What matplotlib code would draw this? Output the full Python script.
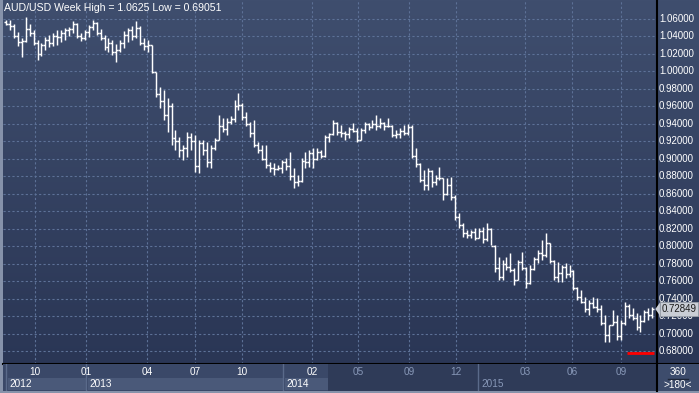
import numpy as np
import matplotlib
matplotlib.use("Agg")
import matplotlib.pyplot as plt
from matplotlib.patches import Rectangle, Polygon

plt.rcParams["font.family"] = ["Liberation Sans", "DejaVu Sans"]

# --- weekly AUD/USD bars (Aug 2012 .. Oct 2015)
opens = [
    1.0560, 1.0545, 1.0520, 1.0400, 1.0340, 1.0350, 1.0480, 1.0440, 1.0330, 1.0200,
    1.0300, 1.0360, 1.0320, 1.0410, 1.0390, 1.0440, 1.0470, 1.0490, 1.0540, 1.0400,
    1.0380, 1.0450, 1.0510, 1.0550, 1.0440, 1.0380, 1.0280, 1.0330, 1.0220, 1.0240,
    1.0330, 1.0420, 1.0470, 1.0400, 1.0500, 1.0330, 1.0290, 1.0300, 0.9990, 0.9740,
    0.9660, 0.9500, 0.9600, 0.9240, 0.9200, 0.9100, 0.9120, 0.9250, 0.9200, 0.8920,
    0.9180, 0.9100, 0.8960, 0.9130, 0.9220, 0.9380, 0.9340, 0.9420, 0.9460, 0.9600,
    0.9620, 0.9480, 0.9400, 0.9300, 0.9160, 0.9100, 0.9000, 0.8930, 0.8900, 0.8880,
    0.8900, 0.8960, 0.8920, 0.8800, 0.8740, 0.8750, 0.8980, 0.8960, 0.9070, 0.9000,
    0.9080, 0.9030, 0.9250, 0.9280, 0.9410, 0.9310, 0.9300, 0.9290, 0.9340, 0.9320,
    0.9220, 0.9330, 0.9400, 0.9370, 0.9400, 0.9380, 0.9410, 0.9380, 0.9380, 0.9270,
    0.9290, 0.9320, 0.9300, 0.9360, 0.9030, 0.8940, 0.8760, 0.8700, 0.8860, 0.8740,
    0.8780, 0.8780, 0.8600, 0.8700, 0.8570, 0.8340, 0.8240, 0.8150, 0.8130, 0.8170,
    0.8100, 0.8180, 0.8090, 0.8200, 0.8010, 0.7750, 0.7650, 0.7800, 0.7760, 0.7730,
    0.7620, 0.7820, 0.7750, 0.7580, 0.7740, 0.7860, 0.7920, 0.7900, 0.8040, 0.7830,
    0.7650, 0.7700, 0.7760, 0.7680, 0.7720, 0.7530, 0.7420, 0.7370, 0.7280, 0.7350,
    0.7310, 0.7290, 0.7130, 0.6990, 0.7105, 0.7140, 0.6980, 0.7120, 0.7320, 0.7220,
    0.7180, 0.7080, 0.7150, 0.7250, 0.7220,
]
highs = [
    1.0589, 1.0589, 1.0543, 1.0451, 1.0383, 1.0623, 1.0543, 1.0474, 1.0360, 1.0326,
    1.0394, 1.0417, 1.0440, 1.0474, 1.0474, 1.0497, 1.0509, 1.0577, 1.0554, 1.0440,
    1.0474, 1.0531, 1.0589, 1.0566, 1.0486, 1.0417, 1.0383, 1.0360, 1.0314, 1.0360,
    1.0463, 1.0497, 1.0520, 1.0577, 1.0520, 1.0383, 1.0360, 1.0303, 0.9994, 0.9823,
    0.9789, 0.9697, 0.9640, 0.9331, 0.9251, 0.9160, 0.9309, 0.9297, 0.9274, 0.9217,
    0.9217, 0.9194, 0.9160, 0.9240, 0.9503, 0.9469, 0.9469, 0.9491, 0.9674, 0.9754,
    0.9640, 0.9537, 0.9423, 0.9446, 0.9194, 0.9160, 0.9160, 0.8966, 0.8954, 0.8931,
    0.8989, 0.9011, 0.9080, 0.8897, 0.8817, 0.9011, 0.9080, 0.9103, 0.9126, 0.9126,
    0.9103, 0.9274, 0.9297, 0.9446, 0.9423, 0.9389, 0.9320, 0.9366, 0.9411, 0.9354,
    0.9354, 0.9423, 0.9411, 0.9446, 0.9503, 0.9469, 0.9423, 0.9469, 0.9389, 0.9331,
    0.9354, 0.9389, 0.9400, 0.9389, 0.9126, 0.8954, 0.8874, 0.8897, 0.8874, 0.8817,
    0.8909, 0.8783, 0.8783, 0.8794, 0.8589, 0.8383, 0.8269, 0.8189, 0.8189, 0.8211,
    0.8211, 0.8223, 0.8269, 0.8211, 0.8017, 0.7880, 0.7846, 0.7880, 0.7926, 0.7754,
    0.7846, 0.7937, 0.7766, 0.7789, 0.7880, 0.7960, 0.8074, 0.8154, 0.8040, 0.7846,
    0.7823, 0.7789, 0.7811, 0.7789, 0.7731, 0.7537, 0.7503, 0.7423, 0.7389, 0.7423,
    0.7411, 0.7331, 0.7217, 0.7103, 0.7274, 0.7217, 0.7160, 0.7366, 0.7343, 0.7297,
    0.7240, 0.7217, 0.7274, 0.7297, 0.7309,
]
lows = [
    1.0531, 1.0474, 1.0383, 1.0291, 1.0166, 1.0337, 1.0406, 1.0303, 1.0131, 1.0177,
    1.0246, 1.0280, 1.0291, 1.0303, 1.0337, 1.0360, 1.0406, 1.0440, 1.0383, 1.0349,
    1.0360, 1.0394, 1.0474, 1.0417, 1.0360, 1.0246, 1.0223, 1.0189, 1.0109, 1.0223,
    1.0269, 1.0337, 1.0360, 1.0383, 1.0303, 1.0246, 1.0223, 0.9983, 0.9709, 0.9583,
    0.9446, 0.9309, 0.9160, 0.9103, 0.9023, 0.8989, 0.9023, 0.9103, 0.8851, 0.8840,
    0.9046, 0.8909, 0.8897, 0.9103, 0.9217, 0.9309, 0.9274, 0.9400, 0.9423, 0.9560,
    0.9446, 0.9377, 0.9251, 0.9137, 0.9069, 0.8989, 0.8897, 0.8851, 0.8817, 0.8874,
    0.8840, 0.8874, 0.8760, 0.8669, 0.8691, 0.8737, 0.8897, 0.8909, 0.8897, 0.8989,
    0.9011, 0.9023, 0.9194, 0.9274, 0.9274, 0.9251, 0.9217, 0.9240, 0.9309, 0.9194,
    0.9217, 0.9297, 0.9331, 0.9354, 0.9331, 0.9354, 0.9331, 0.9366, 0.9251, 0.9240,
    0.9240, 0.9274, 0.9274, 0.9011, 0.8909, 0.8737, 0.8646, 0.8646, 0.8680, 0.8703,
    0.8760, 0.8531, 0.8589, 0.8531, 0.8303, 0.8211, 0.8109, 0.8097, 0.8097, 0.8074,
    0.8097, 0.8040, 0.8063, 0.8017, 0.7709, 0.7617, 0.7617, 0.7731, 0.7709, 0.7560,
    0.7617, 0.7731, 0.7526, 0.7570, 0.7731, 0.7811, 0.7846, 0.7880, 0.7811, 0.7617,
    0.7594, 0.7594, 0.7640, 0.7651, 0.7503, 0.7389, 0.7354, 0.7251, 0.7217, 0.7297,
    0.7251, 0.7103, 0.6909, 0.6909, 0.7103, 0.6931, 0.6931, 0.7103, 0.7183, 0.7160,
    0.7046, 0.7023, 0.7137, 0.7160, 0.7183,
]
closes = [
    1.0545, 1.0520, 1.0400, 1.0340, 1.0350, 1.0480, 1.0440, 1.0330, 1.0200, 1.0300,
    1.0360, 1.0320, 1.0410, 1.0390, 1.0440, 1.0470, 1.0490, 1.0540, 1.0400, 1.0380,
    1.0450, 1.0510, 1.0550, 1.0440, 1.0380, 1.0280, 1.0330, 1.0220, 1.0240, 1.0330,
    1.0420, 1.0470, 1.0400, 1.0500, 1.0330, 1.0290, 1.0300, 0.9990, 0.9740, 0.9660,
    0.9500, 0.9600, 0.9240, 0.9200, 0.9100, 0.9120, 0.9250, 0.9200, 0.8920, 0.9180,
    0.9100, 0.8960, 0.9130, 0.9220, 0.9380, 0.9340, 0.9420, 0.9460, 0.9600, 0.9620,
    0.9480, 0.9400, 0.9300, 0.9160, 0.9100, 0.9000, 0.8930, 0.8900, 0.8880, 0.8900,
    0.8960, 0.8920, 0.8800, 0.8740, 0.8750, 0.8980, 0.8960, 0.9070, 0.9000, 0.9080,
    0.9030, 0.9250, 0.9280, 0.9410, 0.9310, 0.9300, 0.9290, 0.9340, 0.9320, 0.9220,
    0.9330, 0.9400, 0.9370, 0.9400, 0.9380, 0.9410, 0.9380, 0.9380, 0.9270, 0.9290,
    0.9320, 0.9300, 0.9360, 0.9030, 0.8940, 0.8760, 0.8700, 0.8860, 0.8740, 0.8780,
    0.8780, 0.8600, 0.8700, 0.8570, 0.8340, 0.8240, 0.8150, 0.8130, 0.8170, 0.8100,
    0.8180, 0.8090, 0.8200, 0.8010, 0.7750, 0.7650, 0.7800, 0.7760, 0.7730, 0.7620,
    0.7820, 0.7750, 0.7580, 0.7740, 0.7860, 0.7920, 0.7900, 0.8040, 0.7830, 0.7650,
    0.7700, 0.7760, 0.7680, 0.7720, 0.7530, 0.7420, 0.7370, 0.7280, 0.7350, 0.7310,
    0.7290, 0.7130, 0.6990, 0.7105, 0.7140, 0.6980, 0.7120, 0.7320, 0.7220, 0.7180,
    0.7080, 0.7150, 0.7250, 0.7220, 0.72849,
]

month_labels = ["10", "01", "04", "07", "10", "02", "05", "09", "12", "03", "06", "09"]
month_pos = [7.4, 20.3, 35.8, 48.0, 59.9, 77.7, 89.3, 102.3, 114.2, 131.7, 143.7, 156.1]
year_labels = ["2012", "2013", "2014", "2015"]
year_start = [0.0, 20.3, 70.3, 119.8]
price_ticks = [0.68, 0.70, 0.72, 0.74, 0.76, 0.78, 0.80, 0.82, 0.84, 0.86,
               0.88, 0.90, 0.92, 0.94, 0.96, 0.98, 1.00, 1.02, 1.04, 1.06]
last_price = 0.72849
red_level = 0.6786
title = "AUD/USD Week High = 1.0625 Low = 0.69051"

W, H = 699, 393
XLIM = (-0.76, 165.2)
YLIM = (0.6657, 1.0817)
DIM = 81.7  # bar position where the dimmed part of the time axis starts
NARROW = ["Liberation Sans Narrow", "Liberation Sans"]


def px_rect(x0, y0, x1, y1):
    return [x0 / W, 1 - y1 / H, (x1 - x0) / W, (y1 - y0) / H]


def bare(a):
    a.set_xticks([])
    a.set_yticks([])
    for s in a.spines.values():
        s.set_visible(False)


fig = plt.figure(figsize=(W / 100, H / 100), dpi=100, facecolor="#8692aa")

# --- main plot
ax = fig.add_axes(px_rect(3, 0, 657, 364))
grad = np.linspace(0, 1, 256).reshape(-1, 1)
top_c = np.array([0x3f, 0x4e, 0x6e]) / 255
bot_c = np.array([0x2a, 0x36, 0x55]) / 255
img = top_c + (bot_c - top_c) * grad[..., None]
ax.imshow(img, extent=[0, 1, 0, 1], transform=ax.transAxes, aspect="auto", zorder=0)
ax.set_xlim(*XLIM)
ax.set_ylim(*YLIM)
for p in price_ticks:
    ax.axhline(p, color="#5d7197", lw=0.8, ls=(0, (2, 2)), zorder=1)
for m in month_pos:
    ax.axvline(m, color="#5d7197", lw=0.8, ls=(0, (2, 2)), zorder=1)

xs = np.arange(len(closes))
ax.vlines(xs, lows, highs, color="white", lw=1.05, zorder=3)
ax.hlines(opens, xs - 0.5, xs, color="white", lw=1.05, zorder=3)
ax.hlines(closes, xs, xs + 0.5, color="white", lw=1.05, zorder=3)
ax.hlines(red_level, 157.6, 164.4, color="#ff0000", lw=2, zorder=3)
ax.text(0.002, 0.978, title, transform=ax.transAxes, color="white",
        fontsize=7.6, ha="left", va="center")
bare(ax)
ax.spines["bottom"].set_visible(True)
ax.spines["bottom"].set_color("black")
ax.spines["bottom"].set_linewidth(1.5)

# --- right price scale
axr = fig.add_axes(px_rect(657, 0, 699, 364))
axr.imshow(img, extent=[0, 1, 0, 1], transform=axr.transAxes, aspect="auto", zorder=0)
axr.set_xlim(0, 1)
axr.set_ylim(*YLIM)
for p in price_ticks:
    axr.text(0.05, p, f"{p:.5f}", color="white", fontsize=7, ha="left",
             va="center", family=NARROW)
axr.add_patch(Polygon([[-0.04, last_price], [0.07, last_price + 0.0075],
                       [0.07, last_price - 0.0075]], closed=True,
                      facecolor="#c9cdd5", edgecolor="none", zorder=4, clip_on=False))
axr.add_patch(Rectangle((0.07, last_price - 0.0075), 0.9, 0.015,
                        facecolor="#c9cdd5", edgecolor="#9aa0aa", lw=0.6, zorder=4))
axr.text(0.1, last_price, f"{last_price:.5f}", color="#1a1a1a", fontsize=7,
         ha="left", va="center", zorder=5, family=NARROW)
bare(axr)
for side in ("left", "bottom"):
    axr.spines[side].set_visible(True)
    axr.spines[side].set_color("black")
    axr.spines[side].set_linewidth(1.5)

# --- bottom time axis
axb = fig.add_axes(px_rect(3, 364, 657, 391))
axb.set_facecolor("#3a4868")
axb.set_xlim(*XLIM)
axb.set_ylim(0, 1)
axb.add_patch(Rectangle((DIM, 0), XLIM[1] - DIM, 1, facecolor="#2f3b58",
                        edgecolor="none", zorder=1))
year_end = year_start[1:] + [XLIM[1]]
for lab, x0, x1 in zip(year_labels, year_start, year_end):
    dim = x0 >= DIM
    if not dim:
        axb.add_patch(Rectangle((x0 + 0.5, 0.02), min(x1, DIM) - x0 - 0.5, 0.46,
                                facecolor="#4a5979", edgecolor="none", zorder=2))
    axb.axvline(x0, color="#5a6a8a", lw=1, zorder=3)
    axb.text(x0 + 0.8, 0.25, lab, color="#8898b8" if dim else "white",
             fontsize=7.2, ha="left", va="center", zorder=4)
for lab, m in zip(month_labels, month_pos):
    axb.text(m, 0.72, lab, color="#8898b8" if m > DIM else "white",
             fontsize=7.2, ha="center", va="center", zorder=4)
bare(axb)

# --- corner box
axc = fig.add_axes(px_rect(657, 364, 699, 391))
axc.set_facecolor("#3d4c6c")
axc.set_xlim(0, 1)
axc.set_ylim(0, 1)
axc.text(0.5, 0.70, "360", color="white", fontsize=7.2, ha="center", va="center")
axc.plot([0.27, 0.73], [0.46, 0.46], color="#1e2638", lw=1)
axc.text(0.5, 0.22, ">180<", color="white", fontsize=7.2, ha="center", va="center")
bare(axc)
axc.spines["left"].set_visible(True)
axc.spines["left"].set_color("black")
axc.spines["left"].set_linewidth(1.5)

fig.savefig("out.png", dpi=100, facecolor=fig.get_facecolor())
